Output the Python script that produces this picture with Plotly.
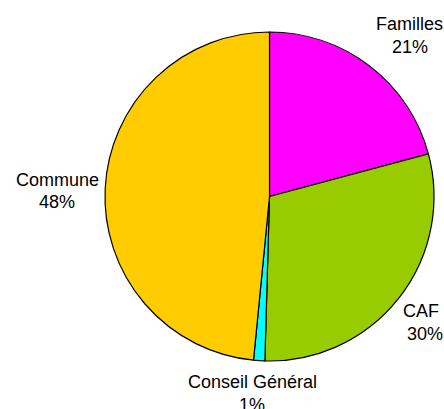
import plotly.graph_objects as go

labels = ["Familles", "CAF", "Conseil Général", "Commune"]
values = [20.8, 29.6, 1.1, 48.4]
colors = ["#FF00FF", "#99CC00", "#00FFFF", "#FFCC00"]

W, H = 444, 409
# (label x, label y, pct x, pct y) in pixels
label_pos = {
    "Familles": (409, 24, 410, 47),
    "CAF": (421, 311, 425, 334),
    "Conseil Général": (252, 382, 252, 405),
    "Commune": (57, 180, 57, 202),
}

fig = go.Figure(go.Pie(
    labels=labels, values=values, sort=False, direction="clockwise",
    rotation=0, marker=dict(colors=colors, line=dict(color="black", width=1.2)),
    textinfo="none", hoverinfo="label+percent",
    domain=dict(x=[105 / W, 434 / W], y=[1 - 361 / H, 1 - 32 / H]),
    showlegend=False,
))

total = sum(values)
anns = []
for lab, v in zip(labels, values):
    lx, ly, px, py = label_pos[lab]
    pct = f"{round(100 * v / total)}%"
    for t, x, y in [(lab, lx, ly), (pct, px, py)]:
        anns.append(dict(
            x=x / W, y=1 - y / H, xref="paper", yref="paper",
            text=t, showarrow=False, xanchor="center", yanchor="middle",
            font=dict(family="Liberation Sans, Arial, sans-serif", size=18, color="black"),
        ))

fig.update_layout(
    width=W, height=H, margin=dict(l=0, r=0, t=0, b=0),
    paper_bgcolor="white", plot_bgcolor="white", annotations=anns,
)
fig.write_html("out.html", config={"displayModeBar": False},
               post_script="document.body.style.margin='0';document.body.style.overflow='hidden';")
